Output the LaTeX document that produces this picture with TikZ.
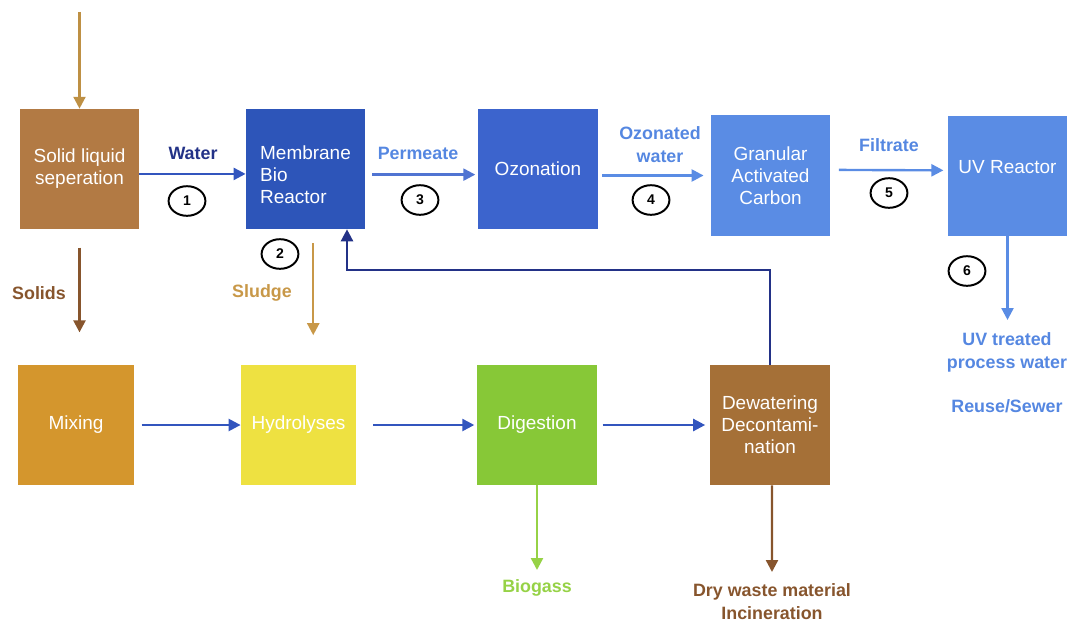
\documentclass[tikz,border=0pt]{standalone}
\usepackage{fontspec}
\setmainfont{Liberation Sans}
\usetikzlibrary{arrows.meta,shapes.geometric,positioning}

\definecolor{slsbrown}{RGB}{178,122,68}
\definecolor{mbrblue}{RGB}{45,85,185}
\definecolor{ozoblue}{RGB}{60,100,205}
\definecolor{lightblue}{RGB}{90,140,228}
\definecolor{mixgold}{RGB}{212,150,45}
\definecolor{hydyellow}{RGB}{238,225,65}
\definecolor{diggreen}{RGB}{135,200,55}
\definecolor{dewbrown}{RGB}{165,112,55}
\definecolor{navy}{RGB}{35,50,135}
\definecolor{flowblue}{RGB}{50,85,190}
\definecolor{textblue}{RGB}{85,135,225}
\definecolor{solidbrown}{RGB}{135,85,45}
\definecolor{sludgegold}{RGB}{200,152,72}
\definecolor{gasgreen}{RGB}{150,210,70}

\begin{document}
\begin{tikzpicture}[
  x=0.025cm, y=-0.025cm,
  block/.style={rectangle, minimum width=2.98cm, minimum height=3cm, inner sep=2pt,
    text=white, align=center, font=\fontsize{13.5}{15.6}\selectfont},
  lbl/.style={font=\fontsize{12.7}{16.3}\selectfont\bfseries, align=center, inner sep=0pt},
  num/.style={ellipse, draw, line width=1.4pt, minimum width=0.92cm, minimum height=0.74cm,
    inner sep=0pt, font=\fontsize{10}{10}\selectfont\bfseries},
  flow/.style={-{Triangle[length=8.5pt,width=8.5pt]}, line width=1.7pt}
]
\useasboundingbox (0,0) rectangle (1069,624);

% upper row
\node[block, fill=slsbrown] (sls) at (79.5,169) {Solid liquid\\seperation};
\node[block, fill=mbrblue, align=left] (mbr) at (305.5,169) {\rule{0pt}{18.5pt}Membrane\\Bio\\Reactor};
\node[block, fill=ozoblue] (ozo) at (538,169) {Ozonation};
\node[block, fill=lightblue] (gac) at (770.5,175.5) {Granular\\Activated\\Carbon};
\node[block, fill=lightblue] (uv) at (1007.5,176) {\raisebox{13pt}{UV Reactor}};

% lower row
\node[block, fill=mixgold, minimum width=2.92cm] (mix) at (76,425) {Mixing};
\node[block, fill=hydyellow, minimum width=2.88cm] (hyd) at (298.5,425) {Hydrolyses};
\node[block, fill=diggreen] (dig) at (537,425) {Digestion};
\node[block, fill=dewbrown] (dew) at (770,425) {Dewatering\\Decontami-\\nation};

\coordinate (feed) at (79.5,12);
\coordinate (fbturn) at (347,270);
\coordinate (uvout) at (1007.5,320);
\coordinate (gasout) at (537,570);
\coordinate (dryout) at (772,572);

% water line
\draw[flow, sludgegold!95!black] (feed) -- (sls.north);
\draw[flow, flowblue] ([yshift=-3.5pt]sls.east) -- ([yshift=-3.5pt]mbr.west);
\draw[flow, ozoblue!90!white, shorten <=5pt, shorten >=2pt] ([yshift=-4pt]mbr.east) -- ([yshift=-4pt]ozo.west);
\draw[flow, lightblue, shorten <=3pt, shorten >=5pt] (ozo.east |- gac.west) -- (gac.west);
\draw[flow, lightblue, shorten <=6pt, shorten >=3pt] ([yshift=4pt]gac.east) -- ([yshift=4pt]uv.west);
\draw[flow, lightblue] (uv.south) -- (uvout);

% solids line
\draw[flow, solidbrown, shorten <=13pt, shorten >=23pt] (sls.south) -- (sls.south |- mix.north);
\draw[flow, sludgegold, shorten <=10pt, shorten >=21pt] ([xshift=5.5pt]mbr.south) -- ([xshift=5.5pt]mbr.south |- hyd.north);
\draw[flow, flowblue, shorten <=5pt] (mix.east) -- (hyd.west);
\draw[flow, flowblue, shorten <=12pt, shorten >=2pt] (hyd.east) -- (dig.west);
\draw[flow, flowblue, shorten <=4pt, shorten >=3.5pt] (dig.east) -- (dew.west);
\draw[flow, navy] (dew.north) |- (fbturn) -- (fbturn |- mbr.south);
\draw[flow, gasgreen] (dig.south) -- (gasout);
\draw[flow, solidbrown] ([xshift=1.4pt]dew.south) -- (dryout);

% labels
\node[lbl, text=navy] (lwater) at (193,153) {Water};
\node[lbl, text=textblue] (lperm) at (418,153) {Permeate};
\node[lbl, text=textblue] (lozo) at (660,145) {Ozonated\\water};
\node[lbl, text=textblue] (lfilt) at (889,145) {Filtrate};
\node[lbl, text=textblue] (ltreat) at (1007,352) {UV treated\\process water};
\node[lbl, text=textblue] (lreuse) at (1007,406) {Reuse/Sewer};
\node[lbl, text=solidbrown] (lsolid) at (39,293) {Solids};
\node[lbl, text=sludgegold] (lsludge) at (262,293) {Sludge};
\node[lbl, text=gasgreen] (lgas) at (537,588) {Biogass};
\node[lbl, text=solidbrown] (ldry) at (772,602) {Dry waste material\\Incineration};

% step numbers
\node[num] (n1) at (187,201) {1};
\node[num] (n2) at (280,254) {2};
\node[num] (n3) at (420,200) {3};
\node[num] (n4) at (651,200) {4};
\node[num] (n5) at (889,193) {5};
\node[num] (n6) at (967,271) {6};
\end{tikzpicture}
\end{document}
